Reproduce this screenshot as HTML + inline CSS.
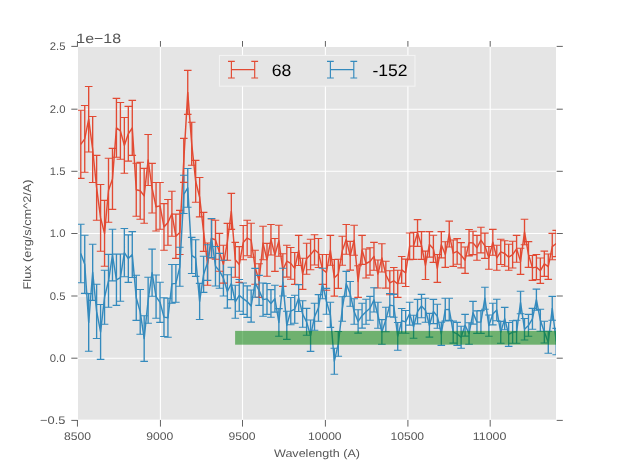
<!DOCTYPE html>
<html><head><meta charset="utf-8"><title>plot</title>
<style>html,body{margin:0;padding:0;background:#fff;overflow:hidden}body{width:617px;height:467px;font-family:"Liberation Sans",sans-serif}</style>
</head><body>
<svg width="617" height="467" viewBox="0 0 617 467" style="display:block;font-family:'Liberation Sans',sans-serif;text-rendering:geometricPrecision">
<filter id="nf" x="-5%" y="-5%" width="110%" height="110%" filterUnits="objectBoundingBox"><feOffset dx="0" dy="0"/></filter>
<rect width="617" height="467" fill="#fff"/>
<rect x="78.0" y="47.0" width="478.0" height="372.6" fill="#e5e5e5"/>
<path d="M160.4 47.0V419.6M242.5 47.0V419.6M325.4 47.0V419.6M407.9 47.0V419.6M490.2 47.0V419.6M78.0 109.2H556.0M78.0 171.3H556.0M78.0 233.5H556.0M78.0 296.0H556.0M78.0 358.2H556.0" stroke="#fff" stroke-width="1.1" fill="none"/>
<clipPath id="c"><rect x="78.0" y="47.0" width="478.0" height="372.6"/></clipPath>
<g clip-path="url(#c)">
<path fill="none" stroke="#e24a33" stroke-width="1.35" d="M80.78 110.3V178.4M84.74 105.5V172.2M88.70 86.5V152.0M92.67 116.5V182.5M96.63 155.4V220.2M100.59 184.5V251.3M104.55 200.4V266.3M108.51 158.2V222.2M112.48 148.4V209.4M116.44 98.4V157.3M120.40 102.5V159.3M124.36 117.5V173.3M128.32 106.4V161.1M132.28 100.4V155.4M136.25 163.2V216.3M140.21 162.3V219.3M144.17 168.4V223.3M148.13 134.5V185.5M152.09 163.4V213.0M156.06 182.5V231.0M160.02 182.5V229.3M163.98 203.6V250.3M167.94 199.5V245.3M171.90 191.3V236.3M175.87 214.1V258.4M179.83 210.4V254.5M183.79 138.4V182.4M187.75 70.4V114.4M191.71 122.3V165.2M195.68 160.4V202.2M199.64 177.5V216.9M203.60 212.4V251.4M207.56 243.0V285.2M211.52 219.0V258.0M215.48 220.3V259.3M219.45 233.4V271.3M223.41 245.3V283.1M227.37 223.4V260.3M231.33 193.4V229.4M235.29 242.4V277.2M239.26 246.6V282.4M243.22 225.5V259.7M247.18 220.3V255.8M251.14 223.2V257.2M255.10 250.2V284.3M259.07 263.8V297.4M263.03 226.3V259.8M266.99 243.4V276.2M270.95 224.5V255.0M274.91 238.5V271.4M278.88 225.3V256.3M282.84 253.7V286.4M286.80 245.3V277.1M290.76 247.5V279.2M294.72 252.5V284.4M298.68 235.4V265.5M302.65 258.3V289.4M306.61 243.2V274.3M310.57 239.3V269.8M314.53 234.7V265.0M318.49 238.5V267.5M322.46 254.5V284.4M326.42 254.5V290.3M330.38 235.4V265.2M334.34 259.5V296.1M338.30 259.3V288.4M342.27 236.2V265.3M346.23 224.5V254.3M350.19 241.4V270.1M354.15 225.3V255.2M358.11 265.7V297.4M362.07 235.4V264.4M366.04 249.0V278.0M370.00 247.8V275.1M373.96 242.4V270.3M377.92 260.0V288.0M381.88 243.8V272.0M385.85 261.3V288.1M389.81 270.8V294.7M393.77 267.5V294.1M397.73 270.3V297.4M401.69 256.5V283.3M405.66 259.1V286.5M409.62 233.0V259.7M413.58 232.4V259.4M417.54 219.6V246.4M421.50 231.6V259.4M425.47 251.1V279.5M429.43 231.6V257.1M433.39 235.3V262.4M437.35 254.5V282.4M441.31 231.6V257.9M445.27 241.8V267.4M449.24 221.1V247.0M453.20 240.0V266.4M457.16 238.6V264.3M461.12 242.6V267.9M465.08 247.0V273.4M469.05 229.5V255.9M473.01 231.3V254.6M476.97 235.4V260.2M480.93 227.3V252.9M484.89 233.1V258.4M488.86 246.5V269.2M492.82 229.4V255.2M496.78 245.3V270.3M500.74 239.3V264.5M504.70 240.7V266.3M508.67 244.2V270.3M512.63 241.3V268.0M516.59 235.4V262.2M520.55 248.3V274.4M524.51 219.3V244.7M528.47 241.6V267.4M532.44 255.5V280.4M536.40 254.5V279.6M540.36 258.0V283.4M544.32 251.1V276.4M548.28 254.0V279.4M552.25 233.4V259.8M556.21 230.4V256.6"/>
<path fill="none" stroke="#348abd" stroke-width="1.35" d="M80.78 224.3V282.7M84.74 235.2V293.4M88.70 293.6V351.3M92.67 244.2V300.4M96.63 284.2V338.5M100.59 304.5V359.4M104.55 270.2V324.3M108.51 254.4V307.3M112.48 229.2V280.9M116.44 254.1V305.4M120.40 254.0V301.2M124.36 228.5V276.8M128.32 234.9V282.4M132.28 231.6V277.5M136.25 275.2V320.4M140.21 289.5V334.2M144.17 315.8V361.4M148.13 277.3V323.3M152.09 249.1V296.3M156.06 275.0V318.3M160.02 282.2V322.4M163.98 297.7V336.5M167.94 298.3V337.2M171.90 264.5V303.3M175.87 264.5V302.3M179.83 247.3V286.3M183.79 175.2V213.5M187.75 168.5V207.3M191.71 237.4V273.5M195.68 239.8V276.4M199.64 283.4V319.5M203.60 256.3V292.4M207.56 244.7V280.4M211.52 218.5V257.6M215.48 246.5V286.0M219.45 253.4V288.3M223.41 260.2V296.0M227.37 274.8V308.1M231.33 267.3V299.6M235.29 285.3V318.3M239.26 279.5V311.3M243.22 283.0V314.4M247.18 285.9V317.4M251.14 290.0V322.1M255.10 268.4V297.3M259.07 275.4V305.4M263.03 283.0V316.3M266.99 283.5V314.4M270.95 289.6V317.3M274.91 285.3V312.1M278.88 308.6V336.3M282.84 268.3V296.0M286.80 311.3V339.4M290.76 297.5V324.7M294.72 295.2V323.2M298.68 284.6V311.5M302.65 300.8V327.3M306.61 308.4V335.3M310.57 320.0V351.4M314.53 303.3V330.3M318.49 294.6V321.2M322.46 268.3V298.7M326.42 288.4V314.3M330.38 302.2V327.4M334.34 348.3V374.2M338.30 331.5V356.3M342.27 296.8V321.3M346.23 271.4V296.2M350.19 281.5V306.2M354.15 298.8V324.3M358.11 309.7V333.1M362.07 303.3V328.1M366.04 299.2V324.3M370.00 296.4V320.2M373.96 287.8V312.0M377.92 302.3V328.2M381.88 319.6V344.3M385.85 307.3V331.8M389.81 293.5V316.7M393.77 294.4V317.3M397.73 322.5V350.3M401.69 308.5V333.1M405.66 310.5V333.3M409.62 302.3V325.1M413.58 315.2V338.3M417.54 299.4V323.9M421.50 294.4V317.7M425.47 298.3V322.2M429.43 313.4V337.1M433.39 299.4V323.6M437.35 304.3V328.3M441.31 322.2V345.4M445.27 298.3V321.0M449.24 298.3V320.4M453.20 321.0V343.1M457.16 322.4V345.4M461.12 326.3V348.3M465.08 314.4V336.1M469.05 322.8V344.3M473.01 301.4V324.1M476.97 310.9V333.4M480.93 310.6V333.4M484.89 287.2V309.2M488.86 315.0V336.3M492.82 303.3V324.9M496.78 299.3V320.8M500.74 321.4V343.3M504.70 307.4V329.8M508.67 322.5V346.4M512.63 320.8V343.3M516.59 320.3V343.3M520.55 291.3V313.8M524.51 318.5V340.0M528.47 314.4V336.3M532.44 308.4V329.2M536.40 289.1V310.3M540.36 309.3V331.3M544.32 321.2V343.0M548.28 331.3V353.3M552.25 296.4V320.3M556.21 328.4V354.7"/>
<polyline fill="none" stroke="#e24a33" stroke-width="1.45" stroke-linejoin="round" points="80.78,144.3 84.74,138.8 88.70,119.2 92.67,149.5 96.63,187.8 100.59,217.9 104.55,233.4 108.51,190.2 112.48,178.9 116.44,127.9 120.40,130.9 124.36,145.4 128.32,133.8 132.28,127.9 136.25,189.8 140.21,190.8 144.17,195.9 148.13,160.0 152.09,188.2 156.06,206.8 160.02,205.9 163.98,226.9 167.94,222.4 171.90,213.8 175.87,236.2 179.83,232.4 183.79,160.4 187.75,92.4 191.71,143.8 195.68,181.3 199.64,197.2 203.60,231.9 207.56,264.1 211.52,238.5 215.48,239.8 219.45,252.4 223.41,264.2 227.37,241.9 231.33,211.4 235.29,259.8 239.26,264.5 243.22,242.6 247.18,238.1 251.14,240.2 255.10,267.2 259.07,280.6 263.03,243.1 266.99,259.8 270.95,239.8 274.91,254.9 278.88,240.8 282.84,270.0 286.80,261.2 290.76,263.4 294.72,268.4 298.68,250.4 302.65,273.9 306.61,258.8 310.57,254.6 314.53,249.8 318.49,253.0 322.46,269.4 326.42,272.4 330.38,250.3 334.34,277.8 338.30,273.9 342.27,250.8 346.23,239.4 350.19,255.8 354.15,240.2 358.11,281.5 362.07,249.9 366.04,263.5 370.00,261.5 373.96,256.4 377.92,274.0 381.88,257.9 385.85,274.7 389.81,282.8 393.77,280.8 397.73,283.9 401.69,269.9 405.66,272.8 409.62,246.3 413.58,245.9 417.54,233.0 421.50,245.5 425.47,265.3 429.43,244.4 433.39,248.8 437.35,268.4 441.31,244.8 445.27,254.6 449.24,234.1 453.20,253.2 457.16,251.4 461.12,255.2 465.08,260.2 469.05,242.7 473.01,242.9 476.97,247.8 480.93,240.1 484.89,245.8 488.86,257.9 492.82,242.3 496.78,257.8 500.74,251.9 504.70,253.5 508.67,257.2 512.63,254.7 516.59,248.8 520.55,261.4 524.51,232.0 528.47,254.5 532.44,267.9 536.40,267.1 540.36,270.7 544.32,263.8 548.28,266.7 552.25,246.6 556.21,243.5"/>
<path fill="none" stroke="#e24a33" stroke-width="1.1" d="M76.98 110.3h7.6M76.98 178.4h7.6M80.94 105.5h7.6M80.94 172.2h7.6M84.90 86.5h7.6M84.90 152.0h7.6M88.87 116.5h7.6M88.87 182.5h7.6M92.83 155.4h7.6M92.83 220.2h7.6M96.79 184.5h7.6M96.79 251.3h7.6M100.75 200.4h7.6M100.75 266.3h7.6M104.71 158.2h7.6M104.71 222.2h7.6M108.68 148.4h7.6M108.68 209.4h7.6M112.64 98.4h7.6M112.64 157.3h7.6M116.60 102.5h7.6M116.60 159.3h7.6M120.56 117.5h7.6M120.56 173.3h7.6M124.52 106.4h7.6M124.52 161.1h7.6M128.48 100.4h7.6M128.48 155.4h7.6M132.45 163.2h7.6M132.45 216.3h7.6M136.41 162.3h7.6M136.41 219.3h7.6M140.37 168.4h7.6M140.37 223.3h7.6M144.33 134.5h7.6M144.33 185.5h7.6M148.29 163.4h7.6M148.29 213.0h7.6M152.26 182.5h7.6M152.26 231.0h7.6M156.22 182.5h7.6M156.22 229.3h7.6M160.18 203.6h7.6M160.18 250.3h7.6M164.14 199.5h7.6M164.14 245.3h7.6M168.10 191.3h7.6M168.10 236.3h7.6M172.07 214.1h7.6M172.07 258.4h7.6M176.03 210.4h7.6M176.03 254.5h7.6M179.99 138.4h7.6M179.99 182.4h7.6M183.95 70.4h7.6M183.95 114.4h7.6M187.91 122.3h7.6M187.91 165.2h7.6M191.88 160.4h7.6M191.88 202.2h7.6M195.84 177.5h7.6M195.84 216.9h7.6M199.80 212.4h7.6M199.80 251.4h7.6M203.76 243.0h7.6M203.76 285.2h7.6M207.72 219.0h7.6M207.72 258.0h7.6M211.68 220.3h7.6M211.68 259.3h7.6M215.65 233.4h7.6M215.65 271.3h7.6M219.61 245.3h7.6M219.61 283.1h7.6M223.57 223.4h7.6M223.57 260.3h7.6M227.53 193.4h7.6M227.53 229.4h7.6M231.49 242.4h7.6M231.49 277.2h7.6M235.46 246.6h7.6M235.46 282.4h7.6M239.42 225.5h7.6M239.42 259.7h7.6M243.38 220.3h7.6M243.38 255.8h7.6M247.34 223.2h7.6M247.34 257.2h7.6M251.30 250.2h7.6M251.30 284.3h7.6M255.27 263.8h7.6M255.27 297.4h7.6M259.23 226.3h7.6M259.23 259.8h7.6M263.19 243.4h7.6M263.19 276.2h7.6M267.15 224.5h7.6M267.15 255.0h7.6M271.11 238.5h7.6M271.11 271.4h7.6M275.07 225.3h7.6M275.07 256.3h7.6M279.04 253.7h7.6M279.04 286.4h7.6M283.00 245.3h7.6M283.00 277.1h7.6M286.96 247.5h7.6M286.96 279.2h7.6M290.92 252.5h7.6M290.92 284.4h7.6M294.88 235.4h7.6M294.88 265.5h7.6M298.85 258.3h7.6M298.85 289.4h7.6M302.81 243.2h7.6M302.81 274.3h7.6M306.77 239.3h7.6M306.77 269.8h7.6M310.73 234.7h7.6M310.73 265.0h7.6M314.69 238.5h7.6M314.69 267.5h7.6M318.66 254.5h7.6M318.66 284.4h7.6M322.62 254.5h7.6M322.62 290.3h7.6M326.58 235.4h7.6M326.58 265.2h7.6M330.54 259.5h7.6M330.54 296.1h7.6M334.50 259.3h7.6M334.50 288.4h7.6M338.47 236.2h7.6M338.47 265.3h7.6M342.43 224.5h7.6M342.43 254.3h7.6M346.39 241.4h7.6M346.39 270.1h7.6M350.35 225.3h7.6M350.35 255.2h7.6M354.31 265.7h7.6M354.31 297.4h7.6M358.27 235.4h7.6M358.27 264.4h7.6M362.24 249.0h7.6M362.24 278.0h7.6M366.20 247.8h7.6M366.20 275.1h7.6M370.16 242.4h7.6M370.16 270.3h7.6M374.12 260.0h7.6M374.12 288.0h7.6M378.08 243.8h7.6M378.08 272.0h7.6M382.05 261.3h7.6M382.05 288.1h7.6M386.01 270.8h7.6M386.01 294.7h7.6M389.97 267.5h7.6M389.97 294.1h7.6M393.93 270.3h7.6M393.93 297.4h7.6M397.89 256.5h7.6M397.89 283.3h7.6M401.86 259.1h7.6M401.86 286.5h7.6M405.82 233.0h7.6M405.82 259.7h7.6M409.78 232.4h7.6M409.78 259.4h7.6M413.74 219.6h7.6M413.74 246.4h7.6M417.70 231.6h7.6M417.70 259.4h7.6M421.67 251.1h7.6M421.67 279.5h7.6M425.63 231.6h7.6M425.63 257.1h7.6M429.59 235.3h7.6M429.59 262.4h7.6M433.55 254.5h7.6M433.55 282.4h7.6M437.51 231.6h7.6M437.51 257.9h7.6M441.47 241.8h7.6M441.47 267.4h7.6M445.44 221.1h7.6M445.44 247.0h7.6M449.40 240.0h7.6M449.40 266.4h7.6M453.36 238.6h7.6M453.36 264.3h7.6M457.32 242.6h7.6M457.32 267.9h7.6M461.28 247.0h7.6M461.28 273.4h7.6M465.25 229.5h7.6M465.25 255.9h7.6M469.21 231.3h7.6M469.21 254.6h7.6M473.17 235.4h7.6M473.17 260.2h7.6M477.13 227.3h7.6M477.13 252.9h7.6M481.09 233.1h7.6M481.09 258.4h7.6M485.06 246.5h7.6M485.06 269.2h7.6M489.02 229.4h7.6M489.02 255.2h7.6M492.98 245.3h7.6M492.98 270.3h7.6M496.94 239.3h7.6M496.94 264.5h7.6M500.90 240.7h7.6M500.90 266.3h7.6M504.87 244.2h7.6M504.87 270.3h7.6M508.83 241.3h7.6M508.83 268.0h7.6M512.79 235.4h7.6M512.79 262.2h7.6M516.75 248.3h7.6M516.75 274.4h7.6M520.71 219.3h7.6M520.71 244.7h7.6M524.67 241.6h7.6M524.67 267.4h7.6M528.64 255.5h7.6M528.64 280.4h7.6M532.60 254.5h7.6M532.60 279.6h7.6M536.56 258.0h7.6M536.56 283.4h7.6M540.52 251.1h7.6M540.52 276.4h7.6M544.48 254.0h7.6M544.48 279.4h7.6M548.45 233.4h7.6M548.45 259.8h7.6M552.41 230.4h7.6M552.41 256.6h7.6"/>
<polyline fill="none" stroke="#348abd" stroke-width="1.45" stroke-linejoin="round" points="80.78,253.5 84.74,264.3 88.70,322.5 92.67,272.3 96.63,311.4 100.59,331.9 104.55,297.2 108.51,280.9 112.48,255.0 116.44,279.8 120.40,277.6 124.36,252.7 128.32,258.6 132.28,254.6 136.25,297.8 140.21,311.9 144.17,338.6 148.13,300.3 152.09,272.7 156.06,296.6 160.02,302.3 163.98,317.1 167.94,317.8 171.90,283.9 175.87,283.4 179.83,266.8 183.79,194.3 187.75,187.9 191.71,255.4 195.68,258.1 199.64,301.4 203.60,274.4 207.56,262.5 211.52,238.1 215.48,266.2 219.45,270.9 223.41,278.1 227.37,291.5 231.33,283.5 235.29,301.8 239.26,295.4 243.22,298.7 247.18,301.6 251.14,306.1 255.10,282.9 259.07,290.4 263.03,299.6 266.99,298.9 270.95,303.5 274.91,298.7 278.88,322.5 282.84,282.1 286.80,325.4 290.76,311.1 294.72,309.2 298.68,298.1 302.65,314.1 306.61,321.9 310.57,335.7 314.53,316.8 318.49,307.9 322.46,283.5 326.42,301.4 330.38,314.8 334.34,361.2 338.30,343.9 342.27,309.1 346.23,283.8 350.19,293.9 354.15,311.6 358.11,321.4 362.07,315.7 366.04,311.8 370.00,308.3 373.96,299.9 377.92,315.2 381.88,332.0 385.85,319.6 389.81,305.1 393.77,305.9 397.73,336.4 401.69,320.8 405.66,321.9 409.62,313.7 413.58,326.8 417.54,311.6 421.50,306.0 425.47,310.2 429.43,325.2 433.39,311.5 437.35,316.3 441.31,333.8 445.27,309.6 449.24,309.4 453.20,332.1 457.16,333.9 461.12,337.3 465.08,325.2 469.05,333.6 473.01,312.8 476.97,322.1 480.93,322.0 484.89,298.2 488.86,325.6 492.82,314.1 496.78,310.1 500.74,332.4 504.70,318.6 508.67,334.4 512.63,332.1 516.59,331.8 520.55,302.6 524.51,329.2 528.47,325.4 532.44,318.8 536.40,299.7 540.36,320.3 544.32,332.1 548.28,342.3 552.25,308.4 556.21,341.5"/>
<path fill="none" stroke="#348abd" stroke-width="1.1" d="M76.98 224.3h7.6M76.98 282.7h7.6M80.94 235.2h7.6M80.94 293.4h7.6M84.90 293.6h7.6M84.90 351.3h7.6M88.87 244.2h7.6M88.87 300.4h7.6M92.83 284.2h7.6M92.83 338.5h7.6M96.79 304.5h7.6M96.79 359.4h7.6M100.75 270.2h7.6M100.75 324.3h7.6M104.71 254.4h7.6M104.71 307.3h7.6M108.68 229.2h7.6M108.68 280.9h7.6M112.64 254.1h7.6M112.64 305.4h7.6M116.60 254.0h7.6M116.60 301.2h7.6M120.56 228.5h7.6M120.56 276.8h7.6M124.52 234.9h7.6M124.52 282.4h7.6M128.48 231.6h7.6M128.48 277.5h7.6M132.45 275.2h7.6M132.45 320.4h7.6M136.41 289.5h7.6M136.41 334.2h7.6M140.37 315.8h7.6M140.37 361.4h7.6M144.33 277.3h7.6M144.33 323.3h7.6M148.29 249.1h7.6M148.29 296.3h7.6M152.26 275.0h7.6M152.26 318.3h7.6M156.22 282.2h7.6M156.22 322.4h7.6M160.18 297.7h7.6M160.18 336.5h7.6M164.14 298.3h7.6M164.14 337.2h7.6M168.10 264.5h7.6M168.10 303.3h7.6M172.07 264.5h7.6M172.07 302.3h7.6M176.03 247.3h7.6M176.03 286.3h7.6M179.99 175.2h7.6M179.99 213.5h7.6M183.95 168.5h7.6M183.95 207.3h7.6M187.91 237.4h7.6M187.91 273.5h7.6M191.88 239.8h7.6M191.88 276.4h7.6M195.84 283.4h7.6M195.84 319.5h7.6M199.80 256.3h7.6M199.80 292.4h7.6M203.76 244.7h7.6M203.76 280.4h7.6M207.72 218.5h7.6M207.72 257.6h7.6M211.68 246.5h7.6M211.68 286.0h7.6M215.65 253.4h7.6M215.65 288.3h7.6M219.61 260.2h7.6M219.61 296.0h7.6M223.57 274.8h7.6M223.57 308.1h7.6M227.53 267.3h7.6M227.53 299.6h7.6M231.49 285.3h7.6M231.49 318.3h7.6M235.46 279.5h7.6M235.46 311.3h7.6M239.42 283.0h7.6M239.42 314.4h7.6M243.38 285.9h7.6M243.38 317.4h7.6M247.34 290.0h7.6M247.34 322.1h7.6M251.30 268.4h7.6M251.30 297.3h7.6M255.27 275.4h7.6M255.27 305.4h7.6M259.23 283.0h7.6M259.23 316.3h7.6M263.19 283.5h7.6M263.19 314.4h7.6M267.15 289.6h7.6M267.15 317.3h7.6M271.11 285.3h7.6M271.11 312.1h7.6M275.07 308.6h7.6M275.07 336.3h7.6M279.04 268.3h7.6M279.04 296.0h7.6M283.00 311.3h7.6M283.00 339.4h7.6M286.96 297.5h7.6M286.96 324.7h7.6M290.92 295.2h7.6M290.92 323.2h7.6M294.88 284.6h7.6M294.88 311.5h7.6M298.85 300.8h7.6M298.85 327.3h7.6M302.81 308.4h7.6M302.81 335.3h7.6M306.77 320.0h7.6M306.77 351.4h7.6M310.73 303.3h7.6M310.73 330.3h7.6M314.69 294.6h7.6M314.69 321.2h7.6M318.66 268.3h7.6M318.66 298.7h7.6M322.62 288.4h7.6M322.62 314.3h7.6M326.58 302.2h7.6M326.58 327.4h7.6M330.54 348.3h7.6M330.54 374.2h7.6M334.50 331.5h7.6M334.50 356.3h7.6M338.47 296.8h7.6M338.47 321.3h7.6M342.43 271.4h7.6M342.43 296.2h7.6M346.39 281.5h7.6M346.39 306.2h7.6M350.35 298.8h7.6M350.35 324.3h7.6M354.31 309.7h7.6M354.31 333.1h7.6M358.27 303.3h7.6M358.27 328.1h7.6M362.24 299.2h7.6M362.24 324.3h7.6M366.20 296.4h7.6M366.20 320.2h7.6M370.16 287.8h7.6M370.16 312.0h7.6M374.12 302.3h7.6M374.12 328.2h7.6M378.08 319.6h7.6M378.08 344.3h7.6M382.05 307.3h7.6M382.05 331.8h7.6M386.01 293.5h7.6M386.01 316.7h7.6M389.97 294.4h7.6M389.97 317.3h7.6M393.93 322.5h7.6M393.93 350.3h7.6M397.89 308.5h7.6M397.89 333.1h7.6M401.86 310.5h7.6M401.86 333.3h7.6M405.82 302.3h7.6M405.82 325.1h7.6M409.78 315.2h7.6M409.78 338.3h7.6M413.74 299.4h7.6M413.74 323.9h7.6M417.70 294.4h7.6M417.70 317.7h7.6M421.67 298.3h7.6M421.67 322.2h7.6M425.63 313.4h7.6M425.63 337.1h7.6M429.59 299.4h7.6M429.59 323.6h7.6M433.55 304.3h7.6M433.55 328.3h7.6M437.51 322.2h7.6M437.51 345.4h7.6M441.47 298.3h7.6M441.47 321.0h7.6M445.44 298.3h7.6M445.44 320.4h7.6M449.40 321.0h7.6M449.40 343.1h7.6M453.36 322.4h7.6M453.36 345.4h7.6M457.32 326.3h7.6M457.32 348.3h7.6M461.28 314.4h7.6M461.28 336.1h7.6M465.25 322.8h7.6M465.25 344.3h7.6M469.21 301.4h7.6M469.21 324.1h7.6M473.17 310.9h7.6M473.17 333.4h7.6M477.13 310.6h7.6M477.13 333.4h7.6M481.09 287.2h7.6M481.09 309.2h7.6M485.06 315.0h7.6M485.06 336.3h7.6M489.02 303.3h7.6M489.02 324.9h7.6M492.98 299.3h7.6M492.98 320.8h7.6M496.94 321.4h7.6M496.94 343.3h7.6M500.90 307.4h7.6M500.90 329.8h7.6M504.87 322.5h7.6M504.87 346.4h7.6M508.83 320.8h7.6M508.83 343.3h7.6M512.79 320.3h7.6M512.79 343.3h7.6M516.75 291.3h7.6M516.75 313.8h7.6M520.71 318.5h7.6M520.71 340.0h7.6M524.67 314.4h7.6M524.67 336.3h7.6M528.64 308.4h7.6M528.64 329.2h7.6M532.60 289.1h7.6M532.60 310.3h7.6M536.56 309.3h7.6M536.56 331.3h7.6M540.52 321.2h7.6M540.52 343.0h7.6M544.48 331.3h7.6M544.48 353.3h7.6M548.45 296.4h7.6M548.45 320.3h7.6M552.41 328.4h7.6M552.41 354.7h7.6"/>
</g>
<rect x="235.1" y="330.9" width="320.9" height="13.8" fill="#008000" fill-opacity="0.515"/>
<path d="M77.45 420.0v6.6M77.45 46.7v-5.7M160.45 420.0v6.6M160.45 46.7v-5.7M242.50 420.0v6.6M242.50 46.7v-5.7M325.40 420.0v6.6M325.40 46.7v-5.7M407.90 420.0v6.6M407.90 46.7v-5.7M490.20 420.0v6.6M490.20 46.7v-5.7M77.5 46.40h-6.2M556.7 46.40h6.1M77.5 109.20h-6.2M556.7 109.20h6.1M77.5 171.30h-6.2M556.7 171.30h6.1M77.5 233.50h-6.2M556.7 233.50h6.1M77.5 296.00h-6.2M556.7 296.00h6.1M77.5 358.20h-6.2M556.7 358.20h6.1M77.5 420.40h-6.2M556.7 420.40h6.1" stroke="#555" stroke-width="0.92" fill="none"/>
<g fill="#555" font-size="11.1" filter="url(#nf)">
<text x="77.4" y="440" text-anchor="middle" textLength="27.0" lengthAdjust="spacingAndGlyphs">8500</text>
<text x="159.8" y="440" text-anchor="middle" textLength="27.0" lengthAdjust="spacingAndGlyphs">9000</text>
<text x="241.9" y="440" text-anchor="middle" textLength="27.0" lengthAdjust="spacingAndGlyphs">9500</text>
<text x="324.8" y="440" text-anchor="middle" textLength="33.6" lengthAdjust="spacingAndGlyphs">10000</text>
<text x="407.3" y="440" text-anchor="middle" textLength="33.6" lengthAdjust="spacingAndGlyphs">10500</text>
<text x="489.6" y="440" text-anchor="middle" textLength="33.6" lengthAdjust="spacingAndGlyphs">11000</text>
<text x="65.5" y="50.3" text-anchor="end" textLength="15.7" lengthAdjust="spacingAndGlyphs">2.5</text>
<text x="65.5" y="113.1" text-anchor="end" textLength="15.7" lengthAdjust="spacingAndGlyphs">2.0</text>
<text x="65.5" y="175.2" text-anchor="end" textLength="15.7" lengthAdjust="spacingAndGlyphs">1.5</text>
<text x="65.5" y="237.4" text-anchor="end" textLength="15.7" lengthAdjust="spacingAndGlyphs">1.0</text>
<text x="65.5" y="299.9" text-anchor="end" textLength="15.7" lengthAdjust="spacingAndGlyphs">0.5</text>
<text x="65.5" y="362.1" text-anchor="end" textLength="15.7" lengthAdjust="spacingAndGlyphs">0.0</text>
<text x="65.5" y="424.3" text-anchor="end" textLength="25.4" lengthAdjust="spacingAndGlyphs">−0.5</text>
<text x="317" y="456.5" text-anchor="middle" textLength="86" lengthAdjust="spacingAndGlyphs">Wavelength (A)</text>
<text transform="translate(30.7,234.5) rotate(-90)" text-anchor="middle" textLength="110" lengthAdjust="spacingAndGlyphs">Flux (erg/s/cm^2/A)</text>
</g>
<g filter="url(#nf)"><text x="76.3" y="43" fill="#555" font-size="13.6" textLength="44.8" lengthAdjust="spacingAndGlyphs">1e−18</text></g>
<rect x="219.4" y="55.4" width="195.6" height="30.8" fill="#e5e5e5" stroke="#f4f4f4" stroke-width="1"/>
<path d="M231.4 69.6H254.7M231.4 61.3V78.0M228.0 61.3h6.8M228.0 78.0h6.8M254.7 61.3V78.0M251.3 61.3h6.8M251.3 78.0h6.8" stroke="#e24a33" stroke-width="1.15" fill="none"/>
<path d="M330.4 69.6H353.8M330.4 61.3V78.0M327.0 61.3h6.8M327.0 78.0h6.8M353.8 61.3V78.0M350.4 61.3h6.8M350.4 78.0h6.8" stroke="#348abd" stroke-width="1.15" fill="none"/>
<g filter="url(#nf)"><text x="271.8" y="75.9" font-size="16.6" fill="#000" textLength="19.6" lengthAdjust="spacingAndGlyphs">68</text>
<text x="372.4" y="75.9" font-size="16.6" fill="#000" textLength="35.2" lengthAdjust="spacingAndGlyphs">-152</text></g>
</svg>
</body></html>
